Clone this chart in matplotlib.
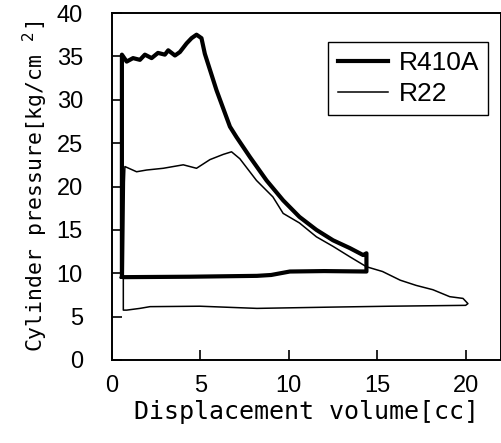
import numpy as np
import matplotlib
matplotlib.use('Agg')
import matplotlib.pyplot as plt

# R410A loop (thick line)
r410a_x = [0.56, 0.56, 0.83, 1.19, 1.58, 1.86, 2.24, 2.6, 2.99, 3.18, 3.56, 3.84, 4.22, 4.5,
           4.78, 5.06, 5.25, 5.91, 6.67, 7.04, 7.8, 8.74, 9.68, 10.6, 11.56, 12.5, 13.45,
           14.2, 14.39, 14.39, 12.0, 10.06, 9.0, 8.2, 4.4, 0.64, 0.56]
r410a_y = [9.6, 35.2, 34.4, 34.8, 34.6, 35.2, 34.8, 35.4, 35.2, 35.7, 35.1, 35.5, 36.5, 37.1,
           37.5, 37.1, 35.3, 31.1, 26.9, 25.7, 23.4, 20.7, 18.4, 16.5, 15.0, 13.8, 12.9,
           12.1, 12.3, 10.2, 10.25, 10.2, 9.8, 9.7, 9.6, 9.55, 9.6]

# R22 loop (thin line)
r22_x = [0.64, 0.7, 0.73, 1.39, 1.96, 2.9, 4.03, 4.78, 5.54, 6.29, 6.76, 7.23, 8.17, 9.1,
         9.68, 10.6, 11.56, 12.5, 13.45, 14.39, 15.3, 16.3, 17.2, 18.15, 19.1, 19.85, 20.13,
         20.0, 15.7, 12.5, 8.2, 4.97, 2.15, 1.58, 0.83, 0.64, 0.64]
r22_y = [9.7, 20.5, 22.3, 21.7, 21.9, 22.1, 22.5, 22.1, 23.1, 23.7, 24.0, 23.2, 20.7, 18.8,
         16.9, 15.8, 14.2, 13.1, 11.9, 10.75, 10.2, 9.2, 8.6, 8.1, 7.3, 7.1, 6.5,
         6.3, 6.2, 6.1, 5.95, 6.2, 6.15, 5.95, 5.75, 5.75, 9.7]

x_ticks = [0, 5, 10, 15, 20]
y_ticks = [0, 5, 10, 15, 20, 25, 30, 35, 40]

fig = plt.figure(figsize=(5.02, 4.43), dpi=100)
ax = fig.add_axes([112 / 502, 1 - 360 / 443, 389 / 502, 347 / 443])

ax.plot(r410a_x, r410a_y, color='black', linewidth=3.0, solid_joinstyle='round', label='R410A')
ax.plot(r22_x, r22_y, color='black', linewidth=1.1, label='R22')

ax.set_xlim(0, 22)
ax.set_ylim(0, 40)
ax.set_xticks(x_ticks)
ax.set_yticks(y_ticks)
ax.tick_params(direction='in', length=7, width=1.2, labelsize=17, pad=11)
ax.tick_params(axis='y', pad=21)
for lab in ax.get_xticklabels() + ax.get_yticklabels():
    lab.set_family('Liberation Sans')
for spine in ax.spines.values():
    spine.set_linewidth(1.4)

ax.set_xlabel('Displacement volume[cc]', family='DejaVu Sans Mono', fontsize=18, labelpad=2)
ax.set_ylabel('Cylinder pressure[kg/cm $^{2}$]', family='DejaVu Sans Mono', fontsize=15.5, labelpad=5)

leg = ax.legend(loc='upper right', bbox_to_anchor=(0.967, 0.916), borderaxespad=0,
                fancybox=False, shadow=False, edgecolor='black', framealpha=1,
                handlelength=1.9, handletextpad=0.4, borderpad=0.35, labelspacing=0.25,
                prop={'family': 'Liberation Sans', 'size': 19})
leg.get_frame().set_linewidth(1.0)

fig.savefig('out.png', dpi=100)
